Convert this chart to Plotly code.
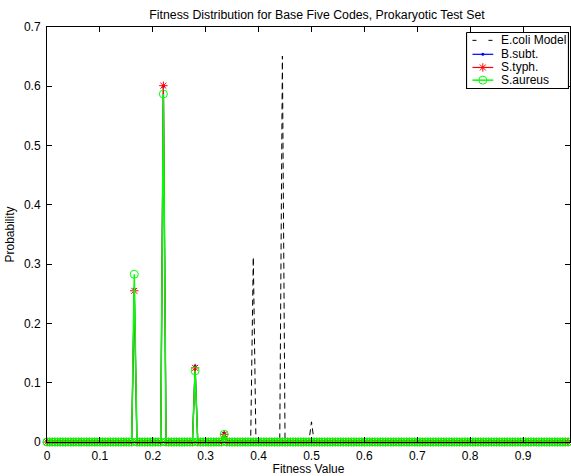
import numpy as np
import plotly.graph_objects as go

# Fitness grid (bin centres)
grid_step = 0.005
grid_max = 0.99

# Non-zero probabilities read off the peaks
peak_x = [0.165, 0.22, 0.28, 0.335]
bsubt_peaks = [0.258, 0.600, 0.128, 0.015]
styph_peaks = [0.255, 0.601, 0.125, 0.013]
saureus_peaks = [0.283, 0.587, 0.120, 0.013]

ecoli_peak_x = [0.39, 0.445, 0.5]
ecoli_peaks = [0.312, 0.651, 0.034]

series_names = ["E.coli Model", "B.subt.", "S.typh.", "S.aureus"]

x_ticks = [0, 0.1, 0.2, 0.3, 0.4, 0.5, 0.6, 0.7, 0.8, 0.9]
x_tick_labels = ["0", "0.1", "0.2", "0.3", "0.4", "0.5", "0.6", "0.7", "0.8", "0.9"]
y_ticks = [0, 0.1, 0.2, 0.3, 0.4, 0.5, 0.6, 0.7]
y_tick_labels = ["0", "0.1", "0.2", "0.3", "0.4", "0.5", "0.6", "0.7"]

x = np.round(np.arange(0, grid_max + 1e-9, grid_step), 3)


def build(px, py):
    y = np.zeros_like(x)
    for a, b in zip(px, py):
        idx = int(np.argmin(np.abs(x - a)))
        y[idx] = b
    return y


ecoli = build(ecoli_peak_x, ecoli_peaks)
bsubt = build(peak_x, bsubt_peaks)
styph = build(peak_x, styph_peaks)
saureus = build(peak_x, saureus_peaks)

FONT = "Liberation Sans, Arial, Helvetica, sans-serif"
GREEN = "#00ff00"

styles = [
    dict(mode="lines", line=dict(color="black", width=1, dash="6px,4px"), marker=None),
    dict(mode="lines+markers", line=dict(color="blue", width=1.2),
         marker=dict(symbol="circle", size=3, color="blue")),
    dict(mode="lines+markers", line=dict(color="red", width=1.2),
         marker=dict(symbol="asterisk-open", size=7, color="red",
                     line=dict(color="red", width=1))),
    dict(mode="lines+markers", line=dict(color=GREEN, width=1.5),
         marker=dict(symbol="circle-open", size=8, color=GREEN,
                     line=dict(color=GREEN, width=1))),
]

fig = go.Figure()
for name, ys, st in zip(series_names, [ecoli, bsubt, styph, saureus], styles):
    kw = dict(x=x, y=ys, mode=st["mode"], name=name, line=st["line"],
              cliponaxis=False, showlegend=False)
    if st["marker"] is not None:
        kw["marker"] = st["marker"]
    fig.add_trace(go.Scatter(**kw))

# ---- MATLAB-style compact legend drawn in its own small axes ----
# plot area in pixels: x 47..570, y 27..442 ; legend box 466..569 x 32..89
PL, PR, PT, PB = 47, 570, 27, 442
LB = dict(l=466, r=569, t=32, b=89)
W, H = LB["r"] - LB["l"], LB["b"] - LB["t"]
dom_x = [(LB["l"] - PL) / (PR - PL), (LB["r"] - PL) / (PR - PL)]
dom_y = [(PB - LB["b"]) / (PB - PT), (PB - LB["t"]) / (PB - PT)]

fig.add_trace(go.Scatter(
    x=[0, W, W, 0, 0], y=[0, 0, H, H, 0], mode="lines", fill="toself",
    fillcolor="white", line=dict(color="black", width=1.2),
    xaxis="x2", yaxis="y2", showlegend=False, hoverinfo="skip"))

row_y = [8, 22.2, 35.6, 48.5]
for name, ry, st in zip(series_names, row_y, styles):
    line = dict(st["line"])
    if name == "E.coli Model":
        line["dash"] = "4px,12px"
    fig.add_trace(go.Scatter(
        x=[6, 27], y=[ry, ry], mode="lines", line=line,
        xaxis="x2", yaxis="y2", showlegend=False, hoverinfo="skip"))
    if st["marker"] is not None:
        fig.add_trace(go.Scatter(
            x=[16.5], y=[ry], mode="markers", marker=st["marker"],
            xaxis="x2", yaxis="y2", showlegend=False, hoverinfo="skip"))
    fig.add_annotation(x=33, y=ry, xref="x2", yref="y2", text=name,
                       showarrow=False, xanchor="left", yanchor="middle",
                       font=dict(family=FONT, size=12, color="black"))

fig.update_layout(
    width=571, height=476,
    margin=dict(l=PL, r=571 - PR, t=PT, b=476 - PB),
    paper_bgcolor="white", plot_bgcolor="white",
    font=dict(family=FONT, size=12, color="black"),
    title=dict(text="Fitness Distribution for Base Five Codes, Prokaryotic Test Set",
               x=317 / 571, xref="container", xanchor="center",
               y=1 - 15 / 476, yref="container", yanchor="middle",
               font=dict(family=FONT, size=12.3, color="black")),
    showlegend=False,
    xaxis=dict(
        range=[0, 0.9887], tickvals=x_ticks, ticktext=x_tick_labels,
        ticks="inside", ticklen=5, tickcolor="black", showline=True,
        linecolor="black", linewidth=1, mirror="ticks", showgrid=False,
        zeroline=False, tickfont=dict(family=FONT, size=12), ticklabelstandoff=3,
        title=dict(text="Fitness Value", standoff=2, font=dict(family=FONT, size=12)),
    ),
    yaxis=dict(
        range=[0, 0.7], tickvals=y_ticks, ticktext=y_tick_labels,
        ticks="inside", ticklen=5, tickcolor="black", showline=True,
        linecolor="black", linewidth=1, mirror="ticks", showgrid=False,
        zeroline=False, ticklabelstandoff=3, tickfont=dict(family=FONT, size=12),
        title=dict(text="Probability", standoff=6, font=dict(family=FONT, size=12)),
    ),
    xaxis2=dict(domain=dom_x, range=[-0.5, W + 0.5], visible=False, anchor="y2",
                fixedrange=True),
    yaxis2=dict(domain=dom_y, range=[H + 0.5, -0.5], visible=False, anchor="x2",
                fixedrange=True),
)

fig.write_html("out.html")
